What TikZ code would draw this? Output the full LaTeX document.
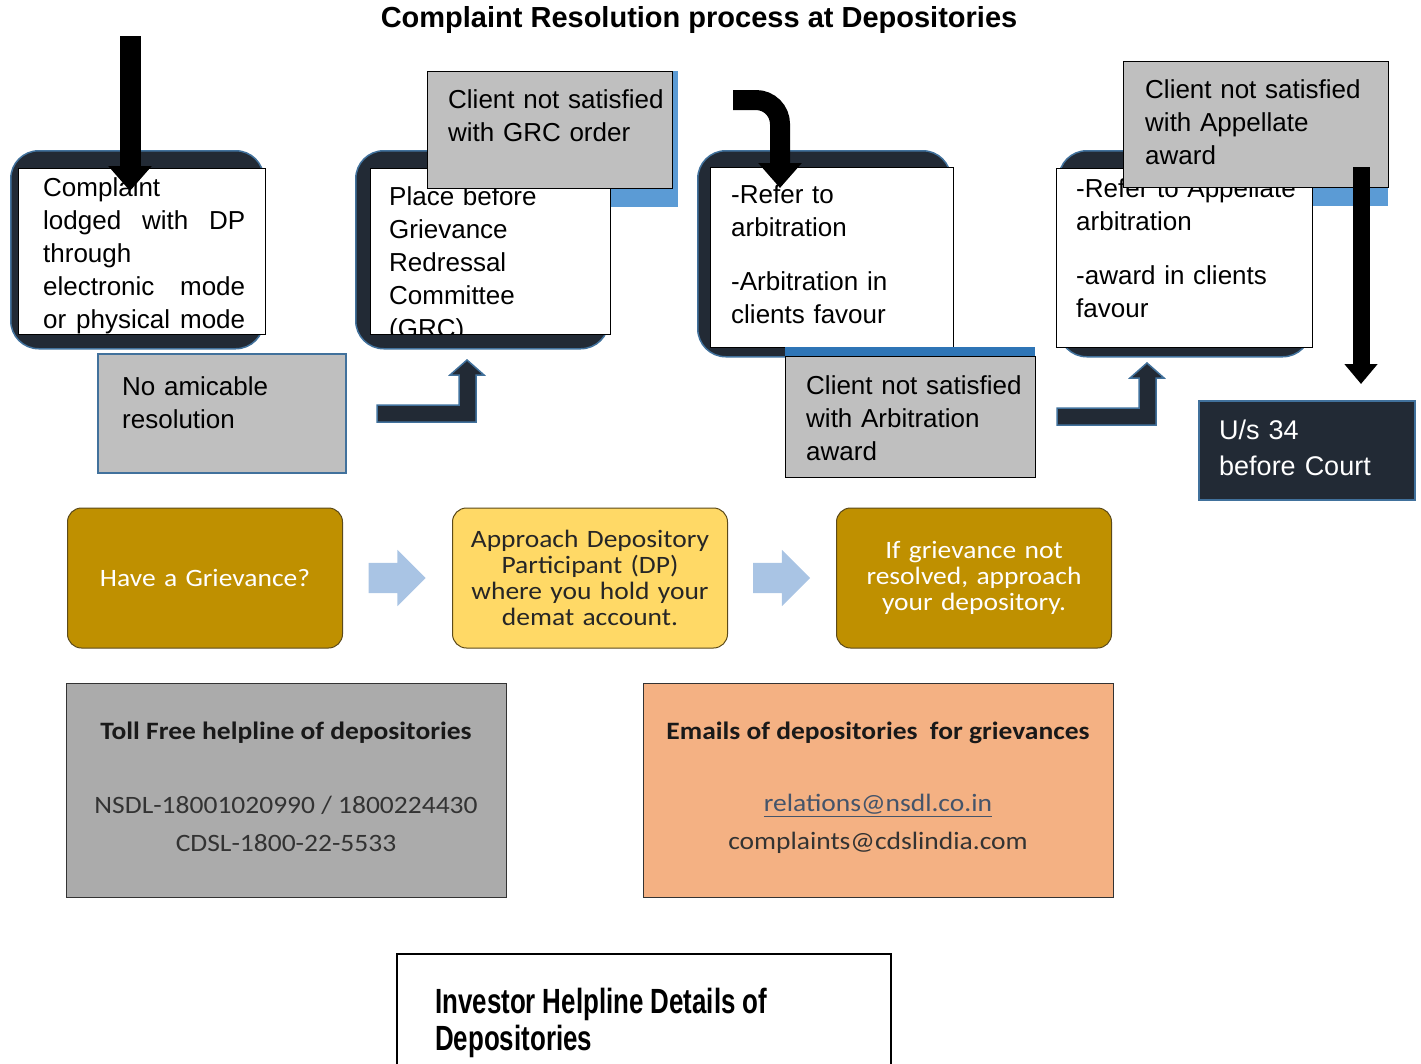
\documentclass[tikz,border=0pt]{standalone}
\usepackage{fontspec}
\setmainfont{Liberation Sans}
\newfontfamily\calfont[FakeStretch=1.1]{Carlito}
\newfontfamily\narrowfont[FakeStretch=0.74]{Liberation Sans Bold}
\usetikzlibrary{arrows.meta, calc, shapes.arrows}

\definecolor{navy}{HTML}{222A35}
\definecolor{edgeblue}{HTML}{41719C}
\definecolor{boxgrey}{HTML}{BFBFBF}
\definecolor{shadowblue}{HTML}{5B9BD5}
\definecolor{stripeblue}{HTML}{2E75B6}
\definecolor{gold}{HTML}{BF9000}
\definecolor{lightgold}{HTML}{FFD966}
\definecolor{goldedge}{HTML}{5C4A1A}
\definecolor{chevblue}{HTML}{A9C4E4}
\definecolor{tollgrey}{HTML}{ABABAB}
\definecolor{peach}{HTML}{F4B183}
\definecolor{linkblue}{HTML}{44546A}

\begin{document}
\begin{tikzpicture}
      [
        x=1pt, y=-1pt,
        darkbox/.style={draw=edgeblue, line width=1.5pt, fill=navy, rounded corners=28pt, anchor=north west, inner sep=0pt},
        whitebox/.style={draw=black, line width=0.8pt, fill=white, anchor=north west, inner sep=0pt},
        greybox/.style={draw=black, line width=1pt, fill=boxgrey, anchor=north west, inner sep=0pt},
        shadowbox/.style={fill=shadowblue, anchor=north west, inner sep=0pt},
        txt/.style={anchor=base west, inner sep=0pt, text width=240pt, align=left, font=\fontsize{26}{33}\selectfont},
        bigarrow/.style={line width=21pt, -{Triangle[width=42pt,length=25pt]}},
        larrow/.style={fill=navy, draw=edgeblue, line width=1.5pt},
        goldbox/.style={rounded corners=14pt, draw=goldedge, line width=1pt, fill=gold, minimum width=275pt, minimum height=140pt, text width=255pt, align=center, text=white, font=\calfont\fontsize{25}{26}\selectfont},
        chevron/.style={single arrow, fill=chevblue, minimum height=57pt, minimum width=56pt, single arrow head extend=13pt, inner sep=0pt, inner ysep=15pt, xshift=-8pt},
        infobox/.style={draw=black!80, line width=1pt, minimum height=214pt}
      ]
      \useasboundingbox (0,0) rectangle (1421,1063);
      % title
      \node [font=\bfseries\fontsize{29}{34}\selectfont] (title) at (699,20) {Complaint Resolution process at Depositories};

      % step 1: complaint with DP
      \node [darkbox, minimum width=253pt, minimum height=198pt] (dark1) at (10,150) {};
      \node [whitebox, minimum width=247pt, minimum height=166pt] (white1) at (18,168) {};
      \node [txt, text width=202pt] (t1) at (43,196)
        {Complaint\\ lodged\hfill with\hfill DP\\ through\\ electronic\hfill mode\\ or\hfill physical\hfill mode};
      \coordinate (s1) at (130,36);
      \coordinate (e1) at (130,191);
      \draw [bigarrow] (s1) -- (e1);
      \node [greybox, draw=edgeblue, line width=1.5pt, minimum width=248pt, minimum height=119pt] (amic) at (97,353) {};
      \node [txt] (tamic) at (122,395) {No amicable\\ resolution};

      % step 2: GRC
      \node [darkbox, minimum width=253pt, minimum height=198pt] (dark2) at (355,150) {};
      \node [shadowbox, minimum width=248pt, minimum height=136pt] (shad2) at (430,71) {};
      \node [whitebox, minimum width=240pt, minimum height=166pt] (white2) at (370,168) {};
      \begin{scope}
        \clip (370,168) rectangle (610,334);
        \node [txt] (t2) at (389,205) {Place before\\ Grievance\\ Redressal\\ Committee\\ (GRC)};
      \end{scope}
      \node [greybox, minimum width=245pt, minimum height=117pt] (grc) at (427,71) {};
      \node [txt] (tgrc) at (448,108) {Client not satisfied\\ with GRC order};

      % bent arrows
      \foreach \dx/\dy in {0/0,680/3} {
          \draw [larrow, shift={(\dx,\dy)}]
            (377,405) -- (459,405) -- (459,375) -- (450,375) -- (467,360)
            -- (484,375) -- (476,375) -- (476,422) -- (377,422) -- cycle;
      }

      % step 3: arbitration
      \node [darkbox, minimum width=253pt, minimum height=206pt] (dark3) at (697,150) {};
      \node [whitebox, minimum width=243pt, minimum height=180pt] (white3) at (710,167) {};
      \node [txt] (t3) at (731,203) {-Refer to\\ arbitration\\[21pt] -Arbitration in\\ clients favour};
      \coordinate (c0) at (733,100);
      \coordinate (c1) at (780,100);
      \coordinate (c2) at (780,188);
      \draw [bigarrow, line width=20pt, rounded corners=24pt] (c0) -- (c1) -- (c2);
      \node [fill=stripeblue, anchor=north west, inner sep=0pt, minimum width=250pt, minimum height=10pt] (strip3) at (785,347) {};
      \node [greybox, minimum width=250pt, minimum height=121pt] (arb) at (785,356) {};
      \node [txt] (tarb) at (806,394) {Client not satisfied\\ with Arbitration\\ award};

      % step 4: appellate arbitration
      \node [darkbox, minimum width=252pt, minimum height=206pt] (dark4) at (1058,150) {};
      \node [shadowbox, minimum width=265pt, minimum height=145pt] (shad4) at (1123,61) {};
      \node [whitebox, minimum width=256pt, minimum height=179pt] (white4) at (1056,168) {};
      \node [txt] (t4) at (1076,197) {-Refer to Appellate\\ arbitration\\[21pt] -award in clients\\ favour};
      \node [greybox, minimum width=265pt, minimum height=126pt] (app) at (1123,61) {};
      \node [txt] (tapp) at (1145,98) {Client not satisfied\\ with Appellate\\ award};
      \coordinate (s4) at (1361,167);
      \coordinate (e4) at (1361,384);
      \draw [bigarrow, line width=17pt, -{Triangle[width=32pt,length=20pt]}] (s4) -- (e4);

      % court
      \node [fill=navy, draw=edgeblue, line width=2pt, anchor=north west, inner sep=0pt, minimum width=216pt, minimum height=99pt] (court) at (1198,400) {};
      \node [txt, text=white, text width=190pt, font=\fontsize{27}{36}\selectfont] (tcourt) at (1219,439) {U/s 34\\ before Court};

      % grievance steps
      \node [goldbox] (griev) at (205,578) {Have a Grievance?};
      \node [goldbox, fill=lightgold, text=black!85] (dp) at (590,578)
        {Approach Depository\\ Participant (DP)\\ where you hold your\\ demat account.};
      \node [goldbox] (depo) at (974,578) {If grievance not\\ resolved, approach\\ your depository.};
      \node [chevron] (ch1) at ($(griev.east)!0.5!(dp.west)$) {};
      \node [chevron] (ch2) at ($(dp.east)!0.5!(depo.west)$) {};

      % helpline boxes
      \node [infobox, fill=tollgrey, minimum width=440pt] (toll) at (286,790) {};
      \node [font=\calfont\bfseries\fontsize{25}{30}\selectfont, text=black!90] (ttoll) at (286,733) {Toll Free helpline of depositories};
      \node [font=\calfont\fontsize{25}{38}\selectfont, align=center, text=black!80] (ntoll) at (286,824)
        {NSDL-18001020990 / 1800224430\\ CDSL-1800-22-5533};
      \node [infobox, fill=peach, minimum width=470pt] (mail) at (878,790) {};
      \node [font=\calfont\bfseries\fontsize{25}{30}\selectfont, text=black!90] (tmail) at (878,733) {Emails of depositories\ \ for grievances};
      \node [font=\calfont\fontsize{25}{38}\selectfont, align=center, text=black!80] (nmail) at (878,824)
        {\textcolor{linkblue}{\underline{relations@nsdl.co.in}}\\ complaints@cdslindia.com};

      % bottom caption
      \draw [line width=1.2pt] (397,1075) -- (397,954) -- (891,954) -- (891,1075);
      \node [anchor=base west, inner sep=0pt, text width=400pt, align=left, font=\narrowfont\fontsize{35}{37}\selectfont] (cap) at (435,1013)
        {\spaceskip=7pt\relax Investor Helpline Details of\\ Depositories};
    \end{tikzpicture}
\end{document}
